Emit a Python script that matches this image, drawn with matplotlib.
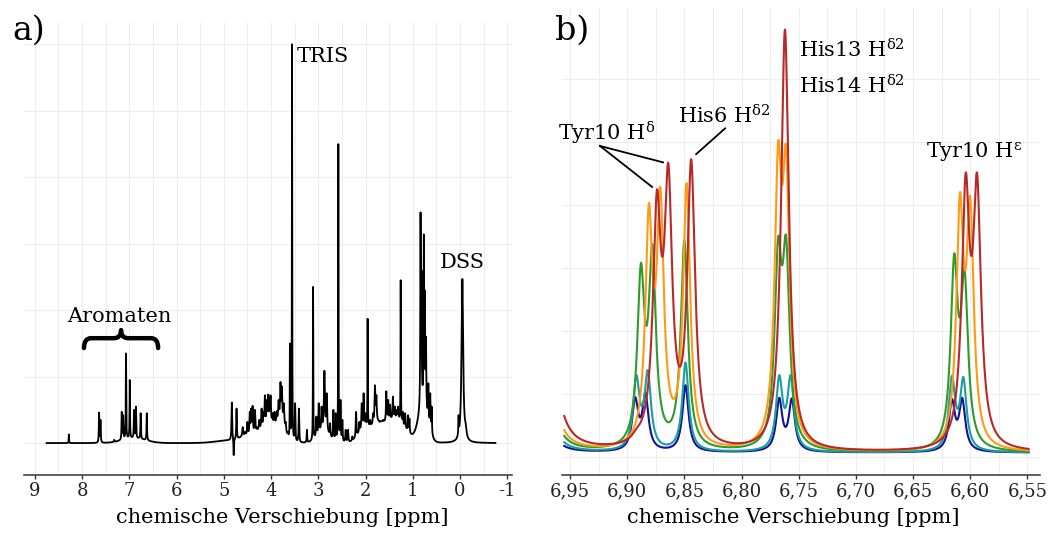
import numpy as np
import matplotlib
matplotlib.use("Agg")
import matplotlib.pyplot as plt
from matplotlib.path import Path
from matplotlib.patches import PathPatch

plt.rcParams['font.family'] = ['DejaVu Serif']
plt.rcParams['mathtext.fontset'] = 'dejavuserif'

# ---- a) full 1H spectrum: peak list (ppm, top height, half width)
shift_a = [8.28, 7.64, 7.61, 7.32, 7.16, 7.13, 7.07, 6.99, 6.90, 6.86, 6.76, 6.63,
           4.83, 4.79, 4.73,
           4.60, 4.55, 4.50, 4.45, 4.42, 4.39, 4.34, 4.30, 4.25, 4.20, 4.16, 4.13,
           4.09, 4.06, 4.03, 4.01, 3.97, 3.93, 3.88, 3.84, 3.80, 3.77, 3.73, 3.69, 3.64,
           3.60, 3.555, 3.49, 3.41, 3.24, 3.11, 3.04, 2.99, 2.93, 2.87, 2.82, 2.75,
           2.68, 2.63, 2.575, 2.53, 2.49, 2.42, 2.37, 2.28,
           2.20, 2.13, 2.08, 2.04, 2.00, 1.955, 1.90, 1.84, 1.80, 1.77, 1.70, 1.63,
           1.56, 1.52, 1.48, 1.42, 1.38, 1.34, 1.31, 1.255, 1.21, 1.16, 1.10, 1.07,
           0.835, 0.815, 0.765, 0.745, 0.72, 0.67, 0.63, 0.60,
           0.03, -0.05, -0.12]
height_a = [0.13, 0.46, 0.35, 0.05, 0.47, 0.42, 1.35, 0.95, 0.50, 0.55, 0.45, 0.45,
            0.61, -0.18, 0.52,
            0.24, 0.17, 0.32, 0.47, 0.52, 0.56, 0.50, 0.24, 0.35, 0.52, 0.47, 0.72,
            0.65, 0.73, 0.60, 0.72, 0.45, 0.47, 0.48, 0.65, 0.92, 0.85, 0.60, 0.32, 0.17,
            1.50, 6.0, 0.60, 0.52, 0.20, 2.35, 0.40, 0.60, 0.55, 1.09, 0.75, 0.30,
            0.50, 0.45, 4.5, 0.65, 0.35, 0.20, 0.20, 0.10,
            0.47, 0.32, 0.60, 0.75, 0.45, 1.87, 0.35, 0.45, 0.87, 0.72, 0.32, 0.35,
            0.78, 0.65, 0.58, 0.70, 0.55, 0.50, 0.55, 2.45, 0.47, 0.45, 0.42, 0.37,
            3.47, 2.6, 3.14, 2.3, 1.6, 0.90, 0.75, 0.55,
            0.42, 2.47, 0.30]
width_a = [0.004, 0.006, 0.006, 0.006, 0.006, 0.006, 0.005, 0.005, 0.006, 0.006, 0.006, 0.006,
           0.008, 0.005, 0.007] + [0.009] * 25 + \
          [0.004, 0.004, 0.007, 0.007, 0.006, 0.004, 0.008, 0.008, 0.008, 0.012, 0.01, 0.008,
           0.007, 0.007, 0.004, 0.007, 0.007, 0.008, 0.008, 0.008] + \
          [0.008, 0.008, 0.008, 0.008, 0.008, 0.004, 0.008, 0.008, 0.01, 0.01, 0.008, 0.008,
           0.008, 0.008, 0.008, 0.008, 0.008, 0.008, 0.008, 0.004, 0.007, 0.007, 0.007, 0.007] + \
          [0.006, 0.006, 0.006, 0.006, 0.007, 0.007, 0.007, 0.007,
           0.006, 0.02, 0.02]
# broad protein envelope under the sharp lines (ppm, height, sigma)
hump_pos_a = [6.9, 4.85, 4.55, 4.25, 4.0, 3.78, 2.9, 2.05, 1.75, 1.35, 0.78]
hump_height_a = [0.07, 0.04, 0.08, 0.15, 0.25, 0.32, 0.18, 0.18, 0.25, 0.35, 0.55]
hump_width_a = [0.25, 0.3, 0.1, 0.12, 0.12, 0.08, 0.12, 0.12, 0.15, 0.2, 0.1]

ticks_a = [9, 8, 7, 6, 5, 4, 3, 2, 1, 0, -1]
ticklabels_a = ['9', '8', '7', '6', '5', '4', '3', '2', '1', '0', '-1']

# ---- b) aromatic region, five spectra: line positions and peak tops
ticks_b = [6.95, 6.90, 6.85, 6.80, 6.75, 6.70, 6.65, 6.60, 6.55]
ticklabels_b = ['6,95', '6,90', '6,85', '6,80', '6,75', '6,70', '6,65', '6,60', '6,55']
colors_b = ['#12129a', '#1a9e9e', '#2e9a2e', '#ff9a12', '#b82828']

pos_navy = [6.893, 6.884, 6.849, 6.767, 6.756, 6.616, 6.607]
top_navy = [0.95, 1.02, 1.14, 0.94, 0.93, 0.92, 0.94]
pos_teal = [6.892, 6.882, 6.849, 6.767, 6.757, 6.616, 6.606]
top_teal = [1.30, 1.38, 1.50, 1.30, 1.30, 1.29, 1.27]
pos_green = [6.888, 6.878, 6.850, 6.768, 6.761, 6.614, 6.605]
top_green = [3.08, 3.38, 3.44, 3.49, 3.51, 3.23, 3.00]
pos_orange = [6.881, 6.871, 6.848, 6.768, 6.761, 6.609, 6.600]
top_orange = [4.03, 4.29, 4.35, 5.00, 4.94, 4.20, 4.14]
pos_red = [6.892, 6.874, 6.864, 6.844, 6.762, 6.604, 6.594]
top_red = [0.45, 4.24, 4.67, 4.73, 6.79, 4.51, 4.51]

halfwidth_b = [0.0032, 0.0034, 0.0037, 0.0037, 0.0041]
edge_b = [0.9, 1.4, 2.2, 3.0, 5.0]      # tail of the 7.0 ppm line at the left edge
offset_b = [0.07, 0.07, 0.07, 0.07, 0.07]


def lorentz(x, x0, w):
    return w ** 2 / ((x - x0) ** 2 + w ** 2)


def spectrum(x, pos, top, width, base):
    pos = np.asarray(pos, float)
    width = np.asarray(width, float)
    m = lorentz(pos[:, None], pos[None, :], width[None, :])
    amp = np.linalg.solve(m, np.asarray(top, float) - base(pos))
    y = base(x)
    for a, p, w in zip(amp, pos, width):
        y = y + a * lorentz(x, p, w)
    return y


def brace(ax, x0, x1, y0, h, r):
    xm = (x0 + x1) / 2
    s = np.sign(x1 - x0) * r
    yc = y0 + h * 0.55
    verts = [(x0, y0), (x0, yc), (x0 + s, yc), (xm - s, yc), (xm, yc), (xm, y0 + h),
             (xm, yc), (xm + s, yc), (x1 - s, yc), (x1, yc), (x1, y0)]
    codes = [Path.MOVETO, Path.CURVE3, Path.CURVE3, Path.LINETO, Path.CURVE3, Path.CURVE3,
             Path.CURVE3, Path.CURVE3, Path.LINETO, Path.CURVE3, Path.CURVE3]
    ax.add_patch(PathPatch(Path(verts, codes), fill=False, lw=3.2, color='black',
                           capstyle='round', joinstyle='round'))


def style(ax):
    for side in ['left', 'right', 'top']:
        ax.spines[side].set_visible(False)
    ax.spines['bottom'].set_color('#333333')
    ax.spines['bottom'].set_linewidth(1.1)
    ax.grid(which='both', color='#eeeeee', lw=0.8)
    ax.set_axisbelow(True)
    ax.tick_params(axis='y', which='both', length=0, labelleft=False)
    ax.tick_params(axis='x', which='major', length=3, width=1, color='#333333',
                   labelsize=13, pad=2, labelcolor='#222222')
    ax.tick_params(axis='x', which='minor', length=0)


fig = plt.figure(figsize=(10.51, 5.33), dpi=100)

# ---- panel a
ax1 = fig.add_axes([0.0228, 0.1088, 0.4643, 0.848])
x1 = np.linspace(8.75, -0.75, 40000)


def env_a(x):
    x = np.asarray(x, float)
    y = np.zeros_like(x)
    for p, h, w in zip(hump_pos_a, hump_height_a, hump_width_a):
        y = y + h * np.exp(-0.5 * ((x - p) / w) ** 2)
    return y


y1 = spectrum(x1, shift_a, height_a, width_a, env_a)
ax1.plot(x1, y1, color='black', lw=1.3)
ax1.set_xlim(9.23, -1.1)
ax1.set_ylim(-0.48, 6.32)
ax1.set_xticks(ticks_a)
ax1.set_xticklabels(ticklabels_a)
ax1.set_xticks(np.arange(-1, 9.01, 0.5), minor=True)
ax1.set_yticks(range(7))
style(ax1)
ax1.set_xlabel('chemische Verschiebung [ppm]', fontsize=15)
ax1.xaxis.set_label_coords(0.529, -0.073)
ax1.text(3.45, 5.73, 'TRIS', fontsize=15)
ax1.text(0.42, 2.63, 'DSS', fontsize=15)
ax1.text(7.22, 1.82, 'Aromaten', fontsize=15, ha='center')
brace(ax1, 7.96, 6.39, 1.43, 0.27, 0.15)

# ---- panel b
ax2 = fig.add_axes([0.5347, 0.1088, 0.4548, 0.876])
x2 = np.linspace(6.955, 6.549, 6000)
series = [(pos_navy, top_navy), (pos_teal, top_teal), (pos_green, top_green),
          (pos_orange, top_orange), (pos_red, top_red)]
for (pos, top), c, hw, e, off in zip(series, colors_b, halfwidth_b, edge_b, offset_b):
    def base(x, e=e, off=off):
        return off + e * lorentz(np.asarray(x, float), 6.972, 0.006)
    y2 = spectrum(x2, pos, top, np.full(len(pos), hw), base)
    ax2.plot(x2, y2, color=c, lw=1.5)
ax2.set_xlim(6.957, 6.539)
ax2.set_ylim(-0.286, 7.13)
ax2.set_xticks(ticks_b)
ax2.set_xticklabels(ticklabels_b)
ax2.set_xticks(np.arange(6.55, 6.951, 0.025), minor=True)
ax2.set_yticks(range(7))
style(ax2)
ax2.set_xlabel('chemische Verschiebung [ppm]', fontsize=15)
ax2.xaxis.set_label_coords(0.484, -0.0707)

ax2.text(6.9605, 5.03, 'Tyr10 H$^{\\mathrm{δ}}$', fontsize=15)
ax2.text(6.8554, 5.30, 'His6 H$^{\\mathrm{δ2}}$', fontsize=15)
ax2.text(6.7495, 6.35, 'His13 H$^{\\mathrm{δ2}}$', fontsize=15)
ax2.text(6.7495, 5.78, 'His14 H$^{\\mathrm{δ2}}$', fontsize=15)
ax2.text(6.639, 4.76, 'Tyr10 H$^{\\mathrm{ε}}$', fontsize=15)
ax2.plot([6.9237, 6.8782], [4.94, 4.29], color='black', lw=1.3)
ax2.plot([6.9237, 6.8686], [4.94, 4.68], color='black', lw=1.3)
ax2.plot([6.8143, 6.8397], [5.22, 4.81], color='black', lw=1.3)

fig.text(12 / 1051, 1 - 40 / 533, 'a)', fontsize=24)
fig.text(555 / 1051, 1 - 40 / 533, 'b)', fontsize=24)

fig.savefig('out.png', dpi=100)
